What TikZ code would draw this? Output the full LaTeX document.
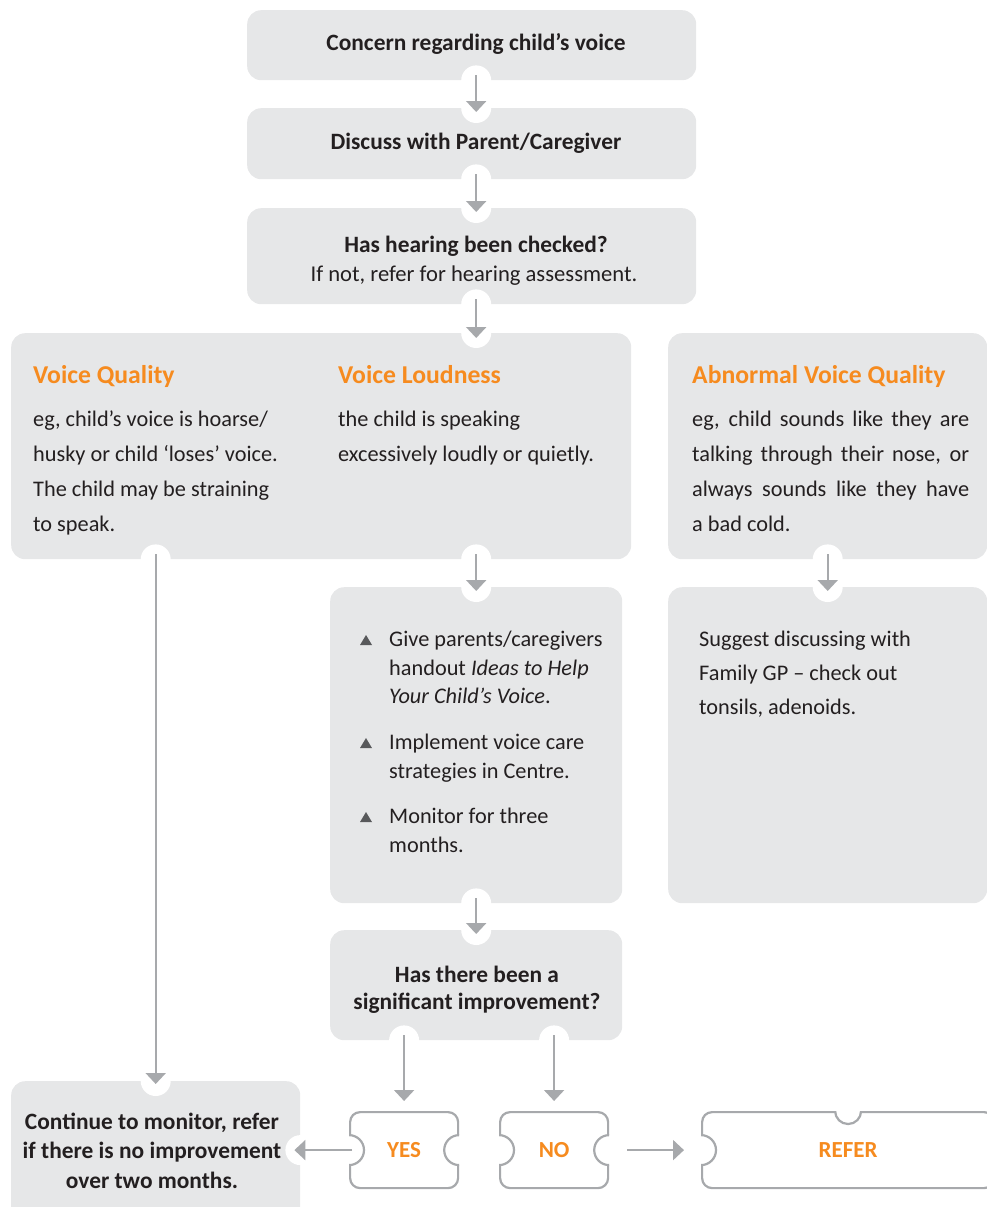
\documentclass[tikz,border=0pt]{standalone}
\usepackage{fontspec}
\setmainfont{Carlito}
\usetikzlibrary{arrows.meta,calc}
\definecolor{boxgray}{HTML}{E6E7E8}
\definecolor{arrgray}{HTML}{A7A9AC}
\definecolor{vorange}{HTML}{F68B1F}
\definecolor{txt}{HTML}{231F20}
\definecolor{bulgray}{HTML}{58595B}
\begin{document}
\begin{tikzpicture}[x=1pt,y=-1pt,
  box/.style={fill=boxgray, rounded corners=14pt, inner sep=0pt, anchor=north west},
  btxt/.style={font=\fontsize{23.4}{29}\selectfont\bfseries, text=txt, align=center, inner sep=0pt},
  body/.style={font=\fontsize{22.3}{35}\selectfont, text=txt, inner sep=0pt, anchor=base west},
  head/.style={font=\fontsize{25.7}{30}\selectfont\bfseries, text=vorange, inner sep=0pt, anchor=base west},
  arr/.style={draw=arrgray, line width=2.2pt, -{Triangle[width=20pt,length=11pt]}},
  tick/.style={draw=arrgray, line width=2.2pt, fill=white, rounded corners=10pt, inner sep=0pt, anchor=north west, text=vorange, font=\fontsize{23}{25}\selectfont\bfseries},
  notch/.style={fill=white},
  bul/.style={fill=bulgray}]
\useasboundingbox (0,0) rectangle (987,1207);

% boxes
\node[box, minimum width=449pt, minimum height=70pt] (b1) at (247,10) {};
\node[box, minimum width=449pt, minimum height=71pt] (b2) at (247,108) {};
\node[box, minimum width=449pt, minimum height=96pt] (b3) at (247,208) {};
\node[box, minimum width=620pt, minimum height=226pt] (big) at (11,333) {};
\node[box, minimum width=319pt, minimum height=226pt] (r1) at (668,333) {};
\node[box, minimum width=292pt, minimum height=316pt] (act) at (330,587) {};
\node[box, minimum width=319pt, minimum height=316pt] (r2) at (668,587) {};
\node[box, minimum width=292pt, minimum height=110pt] (q) at (330,930) {};
\node[box, minimum width=289pt, minimum height=150pt] (cont) at (11,1081) {};

\node[btxt, anchor=base] (t1) at (476,51) {Concern regarding child’s voice};
\node[btxt, anchor=base] (t2) at (476,149) {Discuss with Parent/Caregiver};
\node[btxt, anchor=base] (t3a) at (476,252) {Has hearing been checked?};
\node[btxt, anchor=base, font=\fontsize{22.6}{29}\selectfont] (t3b) at (474,281) {If not, refer for hearing assessment.};
\node[btxt, anchor=base] (tq1) at (477,982) {Has there been a};
\node[btxt, anchor=base] (tq2) at (477,1009) {significant improvement?};
\node[btxt, anchor=base] (tc1) at (152,1129) {Continue to monitor, refer};
\node[btxt, anchor=base] (tc2) at (152,1158) {if there is no improvement};
\node[btxt, anchor=base] (tc3) at (152,1188) {over two months.};

% tickets
\node[tick, minimum width=108pt, minimum height=76pt] (yes) at (349,1111) {YES};
\node[tick, minimum width=108pt, minimum height=76pt] (no) at (499,1111) {NO};
\node[tick, minimum width=292pt, minimum height=76pt] (refer) at (701,1111) {REFER};
\foreach \c in {yes.west, yes.east, no.west, no.east, refer.west}{
  \fill[white] (\c) circle[radius=15pt];
}
\fill[white] (refer.north) circle[radius=13pt];
\begin{scope}
  \clip (yes.north west) rectangle (yes.south east);
  \draw[arrgray, line width=2.2pt] (yes.west) circle[radius=15pt] (yes.east) circle[radius=15pt];
\end{scope}
\begin{scope}
  \clip (no.north west) rectangle (no.south east);
  \draw[arrgray, line width=2.2pt] (no.west) circle[radius=15pt] (no.east) circle[radius=15pt];
\end{scope}
\begin{scope}
  \clip (refer.north west) rectangle (refer.south east);
  \draw[arrgray, line width=2.2pt] (refer.west) circle[radius=15pt];
  \draw[arrgray, line width=2.2pt] (refer.north) circle[radius=13pt];
\end{scope}

% text in big / right boxes
\node[head] (hvq) at (33,383) {Voice Quality};
\node[body] (vq1) at (33,426) {eg, child’s voice is hoarse/};
\node[body] (vq2) at (33,461) {husky or child ‘loses’ voice.};
\node[body] (vq3) at (33,496) {The child may be straining};
\node[body] (vq4) at (33,531) {to speak.};
\node[head] (hvl) at (338,383) {Voice Loudness};
\node[body] (vl1) at (338,426) {the child is speaking};
\node[body] (vl2) at (338,461) {excessively loudly or quietly.};
\node[head] (havq) at (692,383) {Abnormal Voice Quality};
\node[body] (av1) at (692,426) {\makebox[277pt][s]{eg, child sounds like they are}};
\node[body] (av2) at (692,461) {\makebox[277pt][s]{talking through their nose, or}};
\node[body] (av3) at (692,496) {\makebox[277pt][s]{always sounds like they have}};
\node[body] (av4) at (692,531) {a bad cold.};
\node[body] (g1) at (699,646) {Suggest discussing with};
\node[body] (g2) at (699,680) {Family GP – check out};
\node[body] (g3) at (699,714) {tonsils, adenoids.};
% actions
\node[body] (a1) at (389,646) {Give parents/caregivers};
\node[body] (a2) at (389,675) {handout \textit{Ideas to Help}};
\node[body] (a3) at (389,703) {\textit{Your Child’s Voice}.};
\node[body] (a4) at (389,749) {Implement voice care};
\node[body] (a5) at (389,778) {strategies in Centre.};
\node[body] (a6) at (389,823) {Monitor for three};
\node[body] (a7) at (389,852) {months.};
\foreach \yy in {646,749,823}{
  \fill[bul] (360,\yy-1) -- (372,\yy-1) -- (366,\yy-11) -- cycle;
}

% notch / connector points
\coordinate (b1s) at (act.north |- b1.south);
\coordinate (b2n) at (act.north |- b2.north);
\coordinate (b2s) at (act.north |- b2.south);
\coordinate (b3n) at (act.north |- b3.north);
\coordinate (b3s) at (act.north |- b3.south);
\coordinate (bt) at (act.north |- big.north);
\coordinate (bigA) at (act.north |- big.south);
\coordinate (bigB) at (cont.north |- big.south);
\coordinate (r1s) at (r2.north |- r1.south);
\coordinate (qy) at (yes.north |- q.south);
\coordinate (qn) at (no.north |- q.south);
\coordinate (ce) at (cont.east |- yes.west);
\foreach \c in {b1s, b2n, b2s, b3n, b3s, bt, bigA, bigB, r1s, r2.north, act.north, act.south, q.north, qy, qn, cont.north, ce}{
  \fill[notch] (\c) circle[radius=15pt];
}

% arrows
\draw[arr] ([yshift=5pt]b1s) -- ([yshift=-4pt]b2n);
\draw[arr] ([yshift=5pt]b2s) -- ([yshift=-4pt]b3n);
\draw[arr] ([yshift=5pt]b3s) -- ([yshift=-5pt]bt);
\draw[arr] ([yshift=5pt]bigA) -- ([yshift=-4pt]act.north);
\draw[arr] ([yshift=5pt]bigB) -- ([yshift=-3pt]cont.north);
\draw[arr] ([yshift=5pt]r1s) -- ([yshift=-4pt]r2.north);
\draw[arr] ([yshift=5pt]act.south) -- ([yshift=-4pt]q.north);
\draw[arr] ([yshift=5pt]qy) -- ([yshift=10pt]yes.north);
\draw[arr] ([yshift=5pt]qn) -- ([yshift=10pt]no.north);
\draw[arr] ([xshift=3pt]yes.west) -- ([xshift=-6pt]ce);
\draw[arr] ([xshift=18pt]no.east) -- ([xshift=-17pt]refer.west);
\end{tikzpicture}
\end{document}
